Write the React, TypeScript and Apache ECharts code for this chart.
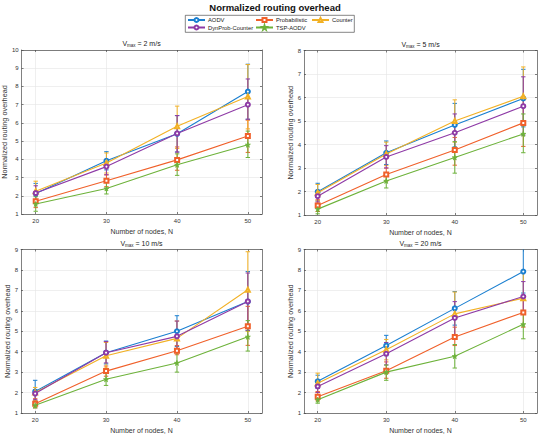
import React, { useEffect, useRef } from "react";
import * as echarts from "echarts";

// ---- data ----
const nodes = [20, 30, 40, 50];
const algos = ["AODV", "Probabilistic", "Counter", "DynProb-Counter", "TSP-AODV"];
const speeds = ["2", "5", "10", "20"];
const yMax = [10, 8, 9, 9];

// Vmax = 2 m/s  (rows follow `algos`)
const v2Mean = [
  [2.12, 3.92, 5.4, 7.72],
  [1.7, 2.82, 3.97, 5.28],
  [2.25, 3.8, 5.82, 7.45],
  [2.15, 3.6, 5.42, 7.0],
  [1.55, 2.4, 3.7, 4.8],
];
const v2Lo = [
  [1.6, 3.42, 4.4, 6.2],
  [1.35, 2.5, 3.4, 4.38],
  [1.7, 3.25, 4.6, 5.67],
  [1.7, 3.15, 4.4, 6.2],
  [1.15, 2.1, 3.12, 4.1],
];
const v2Hi = [
  [2.68, 4.42, 6.4, 9.22],
  [2.0, 3.15, 4.68, 6.15],
  [2.8, 4.35, 6.92, 9.2],
  [2.55, 4.0, 6.4, 8.41],
  [1.95, 2.75, 4.3, 5.55],
];

// Vmax = 5 m/s
const v5Mean = [
  [1.99, 3.65, 4.83, 5.96],
  [1.4, 2.72, 3.77, 4.92],
  [1.95, 3.6, 5.0, 6.05],
  [1.8, 3.47, 4.5, 5.63],
  [1.25, 2.45, 3.45, 4.45],
];
const v5Lo = [
  [1.6, 3.15, 3.9, 4.75],
  [1.15, 2.45, 3.12, 3.92],
  [1.6, 3.1, 4.1, 4.8],
  [1.55, 3.0, 3.7, 4.4],
  [1.05, 2.15, 2.78, 3.65],
];
const v5Hi = [
  [2.35, 4.15, 5.75, 7.2],
  [1.65, 3.0, 4.3, 5.9],
  [2.3, 4.1, 5.9, 7.3],
  [2.05, 3.95, 5.3, 6.88],
  [1.45, 2.75, 4.12, 5.3],
];

// Vmax = 10 m/s
const v10Mean = [
  [2.05, 3.95, 5.0, 6.45],
  [1.45, 3.05, 4.05, 5.24],
  [2.0, 3.8, 4.65, 7.03],
  [1.95, 3.95, 4.75, 6.46],
  [1.38, 2.65, 3.45, 4.73],
];
const v10Lo = [
  [1.6, 3.4, 4.25, 5.03],
  [1.25, 2.8, 3.85, 4.31],
  [1.6, 3.2, 3.95, 5.0],
  [1.65, 3.45, 4.0, 5.05],
  [1.25, 2.35, 3.0, 4.03],
];
const v10Hi = [
  [2.6, 4.52, 5.76, 7.92],
  [1.7, 3.3, 4.3, 6.22],
  [2.25, 4.45, 5.5, 8.89],
  [2.15, 4.5, 5.5, 7.85],
  [1.5, 2.95, 3.95, 5.52],
];

// Vmax = 20 m/s
const v20Mean = [
  [2.55, 4.3, 6.12, 7.92],
  [1.8, 3.07, 4.72, 5.92],
  [2.45, 4.1, 5.85, 6.62],
  [2.3, 3.9, 5.65, 6.7],
  [1.65, 3.0, 3.78, 5.34],
];
const v20Lo = [
  [2.2, 3.8, 5.3, 6.87],
  [1.6, 2.7, 4.3, 5.2],
  [2.0, 3.6, 4.8, 5.9],
  [2.0, 3.35, 4.8, 5.97],
  [1.48, 2.6, 3.2, 4.63],
];
const v20Hi = [
  [2.85, 4.8, 6.94, 9.3],
  [2.05, 3.5, 5.2, 6.7],
  [2.95, 4.6, 6.92, 7.9],
  [2.6, 4.45, 6.45, 7.43],
  [1.85, 3.35, 4.35, 6.02],
];

const means = [v2Mean, v5Mean, v10Mean, v20Mean];
const lows = [v2Lo, v5Lo, v10Lo, v20Lo];
const highs = [v2Hi, v5Hi, v10Hi, v20Hi];

// ---- styling ----
const colors = ["#1A7FD0", "#F0602A", "#F2B125", "#8E3AA6", "#6DB23A"];
const STAR =
  "path://M50,0 L61,35 L98,35 L68,57 L79,91 L50,70 L21,91 L32,57 L2,35 L39,35 Z";
const symbols = ["emptyCircle", "emptyRect", "emptyTriangle", "emptyCircle", STAR];
const FONT = "Liberation Sans, Arial, Helvetica, sans-serif";

const grids = [
  { left: 21, top: 50, width: 241, height: 164 },
  { left: 304, top: 50.5, width: 233, height: 164.5 },
  { left: 21, top: 249.5, width: 241, height: 164.5 },
  { left: 304, top: 249.5, width: 233, height: 164.5 },
];

const axisLineColor = "#4a4a4a";
const gridColor = "#e4e4e4";

function buildOption() {
  const xAxis: any[] = [];
  const yAxis: any[] = [];
  const series: any[] = [];
  const titles: any[] = [
    {
      text: "Normalized routing overhead",
      left: "center",
      top: 2,
      padding: 0,
      textStyle: { fontSize: 9.5, fontWeight: "bold", color: "#111", fontFamily: FONT },
    },
  ];

  grids.forEach((g, gi) => {
    const tickCommon = {
      inside: true,
      length: 2,
      lineStyle: { color: axisLineColor, width: 0.7 },
    };
    xAxis.push({
      type: "value",
      gridIndex: gi,
      min: 18,
      max: 52,
      position: "bottom",
      axisLine: { show: true, onZero: false, lineStyle: { color: axisLineColor, width: 0.7 } },
      axisTick: { ...tickCommon, customValues: nodes },
      axisLabel: { customValues: nodes, fontSize: 6, color: "#333", margin: 4, fontFamily: FONT },
      splitLine: { show: true, lineStyle: { color: gridColor, width: 0.6 } },
      name: "Number of nodes, N",
      nameLocation: "middle",
      nameGap: 14,
      nameTextStyle: { fontSize: 7, color: "#333", fontFamily: FONT },
    });
    xAxis.push({
      type: "value",
      gridIndex: gi,
      min: 18,
      max: 52,
      position: "top",
      axisLine: { show: true, onZero: false, lineStyle: { color: axisLineColor, width: 0.7 } },
      axisTick: { ...tickCommon, customValues: nodes },
      axisLabel: { show: false },
      splitLine: { show: false },
    });
    yAxis.push({
      type: "value",
      gridIndex: gi,
      min: 1,
      max: yMax[gi],
      interval: 1,
      position: "left",
      axisLine: { show: true, onZero: false, lineStyle: { color: axisLineColor, width: 0.7 } },
      axisTick: { ...tickCommon },
      axisLabel: { fontSize: 6, color: "#333", margin: 3, fontFamily: FONT },
      splitLine: { show: true, lineStyle: { color: gridColor, width: 0.6 } },
      name: "Normalized routing overhead",
      nameLocation: "middle",
      nameRotate: 90,
      nameGap: 9,
      nameTextStyle: { fontSize: 7.3, color: "#333", fontFamily: FONT },
    });
    yAxis.push({
      type: "value",
      gridIndex: gi,
      min: 1,
      max: yMax[gi],
      interval: 1,
      position: "right",
      axisLine: { show: true, onZero: false, lineStyle: { color: axisLineColor, width: 0.7 } },
      axisTick: { ...tickCommon },
      axisLabel: { show: false },
      splitLine: { show: false },
    });

    titles.push({
      text: `{v|V}{s|max}{v| = ${speeds[gi]} m/s}`,
      left: g.left + g.width / 2,
      textAlign: "center",
      top: g.top - 11,
      padding: 0,
      textStyle: {
        fontFamily: FONT,
        fontWeight: "normal",
        rich: {
          v: { fontSize: 7, color: "#222", fontFamily: FONT, fontWeight: "normal", lineHeight: 9 },
          s: {
            fontSize: 4.5,
            color: "#222",
            fontFamily: FONT,
            fontWeight: "normal",
            verticalAlign: "bottom",
            padding: [3, 0, 0, 0],
          },
        },
      },
    });

    algos.forEach((name, ai) => {
      const c = colors[ai];
      const lo = lows[gi][ai];
      const hi = highs[gi][ai];
      series.push({
        type: "custom",
        name: name + " error",
        xAxisIndex: gi * 2,
        yAxisIndex: gi * 2,
        clip: true,
        silent: true,
        z: 2 + ai,
        data: nodes.map((n, k) => [n, lo[k], hi[k]]),
        encode: { x: 0, y: [1, 2] },
        renderItem: (params: any, api: any) => {
          const x = api.value(0);
          const pLo = api.coord([x, api.value(1)]);
          const pHi = api.coord([x, api.value(2)]);
          const w = 2.2;
          const st = { stroke: c, lineWidth: 1 };
          return {
            type: "group",
            children: [
              { type: "line", shape: { x1: pHi[0], y1: pHi[1], x2: pLo[0], y2: pLo[1] }, style: st },
              { type: "line", shape: { x1: pHi[0] - w, y1: pHi[1], x2: pHi[0] + w, y2: pHi[1] }, style: st },
              { type: "line", shape: { x1: pLo[0] - w, y1: pLo[1], x2: pLo[0] + w, y2: pLo[1] }, style: st },
            ],
          };
        },
      });
    });
    algos.forEach((name, ai) => {
      const c = colors[ai];
      const m = means[gi][ai];
      series.push({
        type: "line",
        name,
        xAxisIndex: gi * 2,
        yAxisIndex: gi * 2,
        z: 10 + ai,
        data: nodes.map((n, k) => [n, m[k]]),
        symbol: symbols[ai],
        symbolSize: ai === 4 ? 5 : 4,
        showSymbol: true,
        lineStyle: { color: c, width: 1.1 },
        itemStyle: { color: c, borderColor: c, borderWidth: 0.8 },
        emphasis: { disabled: true },
      });
    });
  });

  const legendPos = [
    { left: 187, top: 17 },
    { left: 255, top: 17 },
    { left: 311, top: 17 },
    { left: 187, top: 24.5 },
    { left: 255, top: 24.5 },
  ];
  const legend = algos.map((name, ai) => ({
    data: [name],
    left: legendPos[ai].left,
    top: legendPos[ai].top,
    padding: 0,
    itemGap: 0,
    itemWidth: 17,
    itemHeight: 5,
    selectedMode: false,
    textStyle: { fontSize: 5.8, color: "#222", fontFamily: FONT, padding: [0, 0, 0, -2] },
  }));

  return {
    animation: false,
    backgroundColor: "#fff",
    textStyle: { fontFamily: FONT },
    title: titles,
    legend,
    graphic: [
      {
        type: "rect",
        left: 185,
        top: 15,
        shape: { width: 169, height: 17 },
        style: { fill: "#fff", stroke: "#333", lineWidth: 0.6 },
        z: -1,
        silent: true,
      },
    ],
    grid: grids.map((g) => ({ ...g, containLabel: false })),
    xAxis,
    yAxis,
    series,
  };
}

export default function App() {
  const ref = useRef<HTMLDivElement>(null);
  useEffect(() => {
    document.body.style.margin = "0";
    if (!ref.current) return;
    const chart = echarts.init(ref.current, undefined, { renderer: "svg" });
    chart.setOption(buildOption() as any);
    return () => chart.dispose();
  }, []);
  return <div ref={ref} style={{ width: 550, height: 435 }} />;
}
